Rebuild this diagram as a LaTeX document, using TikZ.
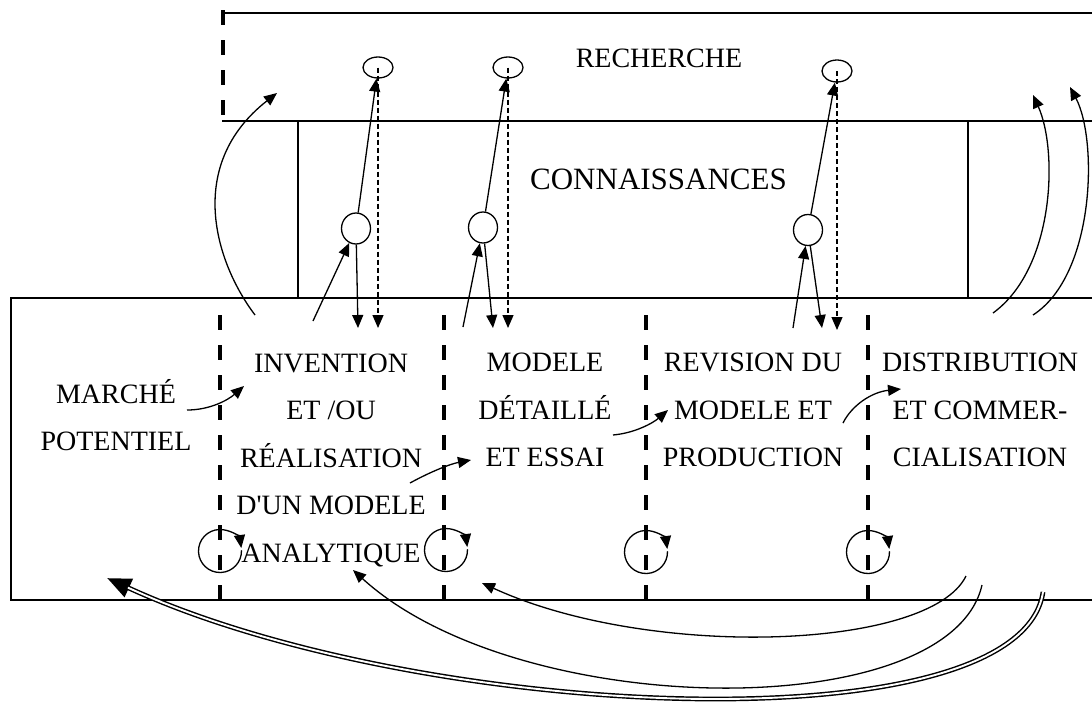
\documentclass[tikz,border=0pt]{standalone}
\usepackage{fontspec}
\setmainfont{Liberation Serif}
\usetikzlibrary{arrows.meta,shapes.geometric,calc}
\tikzset{
  boxline/.style={line width=1.5pt},
  coldash/.style={line width=3.4pt, dash pattern=on 15pt off 15pt},
  arr/.style={line width=1.3pt, -{Triangle[length=13pt,width=11pt]}},
  darr/.style={line width=1.2pt, dash pattern=on 5pt off 3pt, -{Triangle[length=13pt,width=11pt]}},
  cyc/.style={line width=1.3pt, -{Triangle[length=13pt,width=11pt]}},
  bub/.style={draw, line width=1.3pt, ellipse, inner sep=0pt},
  dblarrow/.style={line width=4.8pt, -{Triangle[length=24pt,width=19pt]},
     postaction={draw, white, line width=1.9pt, -, shorten >=23pt}},
  lbl/.style={font=\fontsize{28}{47.5}\selectfont, align=center, inner sep=0pt}
}
\begin{document}
\begin{tikzpicture}[x=1pt,y=1pt]
\useasboundingbox (0,0) rectangle (1092,-705);
\fill[white] (0,0) rectangle (1092,-705);
\clip (0,0) rectangle (1092,-705);

% RECHERCHE box
\draw[boxline] (223,-13) -- (1100,-13);
\draw[boxline] (222,-121) -- (1100,-121);
\draw[coldash] (223,-10) -- (223,-121);
% CONNAISSANCES box sides
\draw[boxline] (298,-121) -- (298,-298);
\draw[boxline] (968,-121) -- (968,-298);
% main box
\draw[boxline] (1100,-298) -- (11,-298) -- (11,-600) -- (1100,-600);

% column separators
\foreach \cx in {220,444,646,868}{
  \draw[coldash] (\cx,-315) -- (\cx,-600);
}

% labels
\node[lbl] (recherche) at (659,-58) {RECHERCHE};
\node[lbl, font=\fontsize{31}{36}\selectfont] (conn) at (658.5,-179) {CONNAISSANCES};
\node[lbl] (marche) at (116,-415) {MARCHÉ\\POTENTIEL};
\node[lbl] (invention) at (331,-460) {INVENTION\\ET /OU\\RÉALISATION\\D\textquotesingle UN MODELE\\ANALYTIQUE};
\node[lbl] (modele) at (545,-410) {MODELE\\DÉTAILLÉ\\ET ESSAI};
\node[lbl] (revision) at (753,-410) {REVISION DU\\MODELE ET\\PRODUCTION};
\node[lbl] (distrib) at (980,-410) {DISTRIBUTION\\ET COMMER-\\CIALISATION};

% recherche ellipses
\node[bub, minimum width=30pt, minimum height=21pt] (r1) at (378,-67.5) {};
\node[bub, minimum width=30pt, minimum height=21pt] (r2) at (508,-67.5) {};
\node[bub, minimum width=30pt, minimum height=22pt] (r3) at (837,-71) {};
% connaissances circles
\node[bub, minimum width=29pt, minimum height=31pt] (c1) at (356,-228.5) {};
\node[bub, minimum width=29pt, minimum height=31pt] (c2) at (483,-227.5) {};
\node[bub, minimum width=29pt, minimum height=31pt] (c3) at (808,-230) {};

% free ends
\coordinate (s1) at (313,-321);
\coordinate (e1) at (358,-328);
\coordinate (d1) at (378,-328);
\coordinate (s2) at (463,-327);
\coordinate (e2) at (493,-328);
\coordinate (d2) at (508,-328);
\coordinate (s3) at (793,-328);
\coordinate (e3) at (822,-328);
\coordinate (d3) at (837,-330);

% column 1
\draw[arr] (s1) -- (c1);
\draw[arr] (c1) -- (r1);
\draw[arr] (c1) -- (e1);
\draw[darr] (r1.center) -- (d1);
% column 2
\draw[arr] (s2) -- (c2);
\draw[arr] (c2) -- (r2);
\draw[arr] (c2) -- (e2);
\draw[darr] (r2.center) -- (d2);
% column 3
\draw[arr] (s3) -- (c3);
\draw[arr] (c3) -- (r3);
\draw[arr] (c3) -- (e3);
\draw[darr] (r3.center) -- (d3);

% left curved arrow to recherche
\coordinate (lcs) at (255,-315);
\coordinate (lce) at (277,-93);
\draw[arr] (lcs) .. controls (215,-262) and (185,-165) .. (lce);
% right curved arrows to recherche
\coordinate (rAs) at (993,-313);
\coordinate (rAe) at (1033,-95);
\draw[arr] (rAs) .. controls (1055,-268) and (1058,-150) .. (rAe);
\coordinate (rBs) at (1033,-315);
\coordinate (rBe) at (1070,-87);
\draw[arr] (rBs) .. controls (1095,-275) and (1098,-140) .. (rBe);

% small arrows between stages
\coordinate (m1s) at (187,-410);
\coordinate (m1e) at (244,-386);
\draw[arr] (m1s) .. controls (210,-410) and (228,-400) .. (m1e);
\coordinate (m2s) at (410,-483);
\coordinate (m2e) at (471,-460);
\draw[arr] (m2s) .. controls (430,-472) and (450,-464) .. (m2e);
\coordinate (m3s) at (613,-435);
\coordinate (m3e) at (668,-410);
\draw[arr] (m3s) .. controls (635,-433) and (653,-423) .. (m3e);
\coordinate (m4s) at (843,-423);
\coordinate (m4e) at (901,-389);
\draw[arr] (m4s) .. controls (852,-405) and (872,-392) .. (m4e);

% cycle arrows
\foreach \cx/\cy [count=\i] in {220/551,446/550,646/552,868/552}{
  \coordinate (cy\i) at (\cx,-\cy);
  \draw[cyc] (cy\i) ++(2:21.5pt) arc[start angle=2, end angle=-352, radius=21.5pt];
}

% feedback arrows at the bottom
\coordinate (f1s) at (966,-576);
\coordinate (f1e) at (482,-583);
\draw[arr] (f1s) .. controls (930,-650) and (650,-660) .. (f1e);
\coordinate (f2s) at (982,-585);
\coordinate (f2e) at (353,-570);
\draw[arr] (f2s) .. controls (950,-725) and (520,-722) .. (f2e);
\coordinate (f3s) at (1043,-592);
\coordinate (f3e) at (107,-578);
\draw[dblarrow] (f3s) .. controls (1020,-748) and (420,-722) .. (f3e);
\end{tikzpicture}
\end{document}
